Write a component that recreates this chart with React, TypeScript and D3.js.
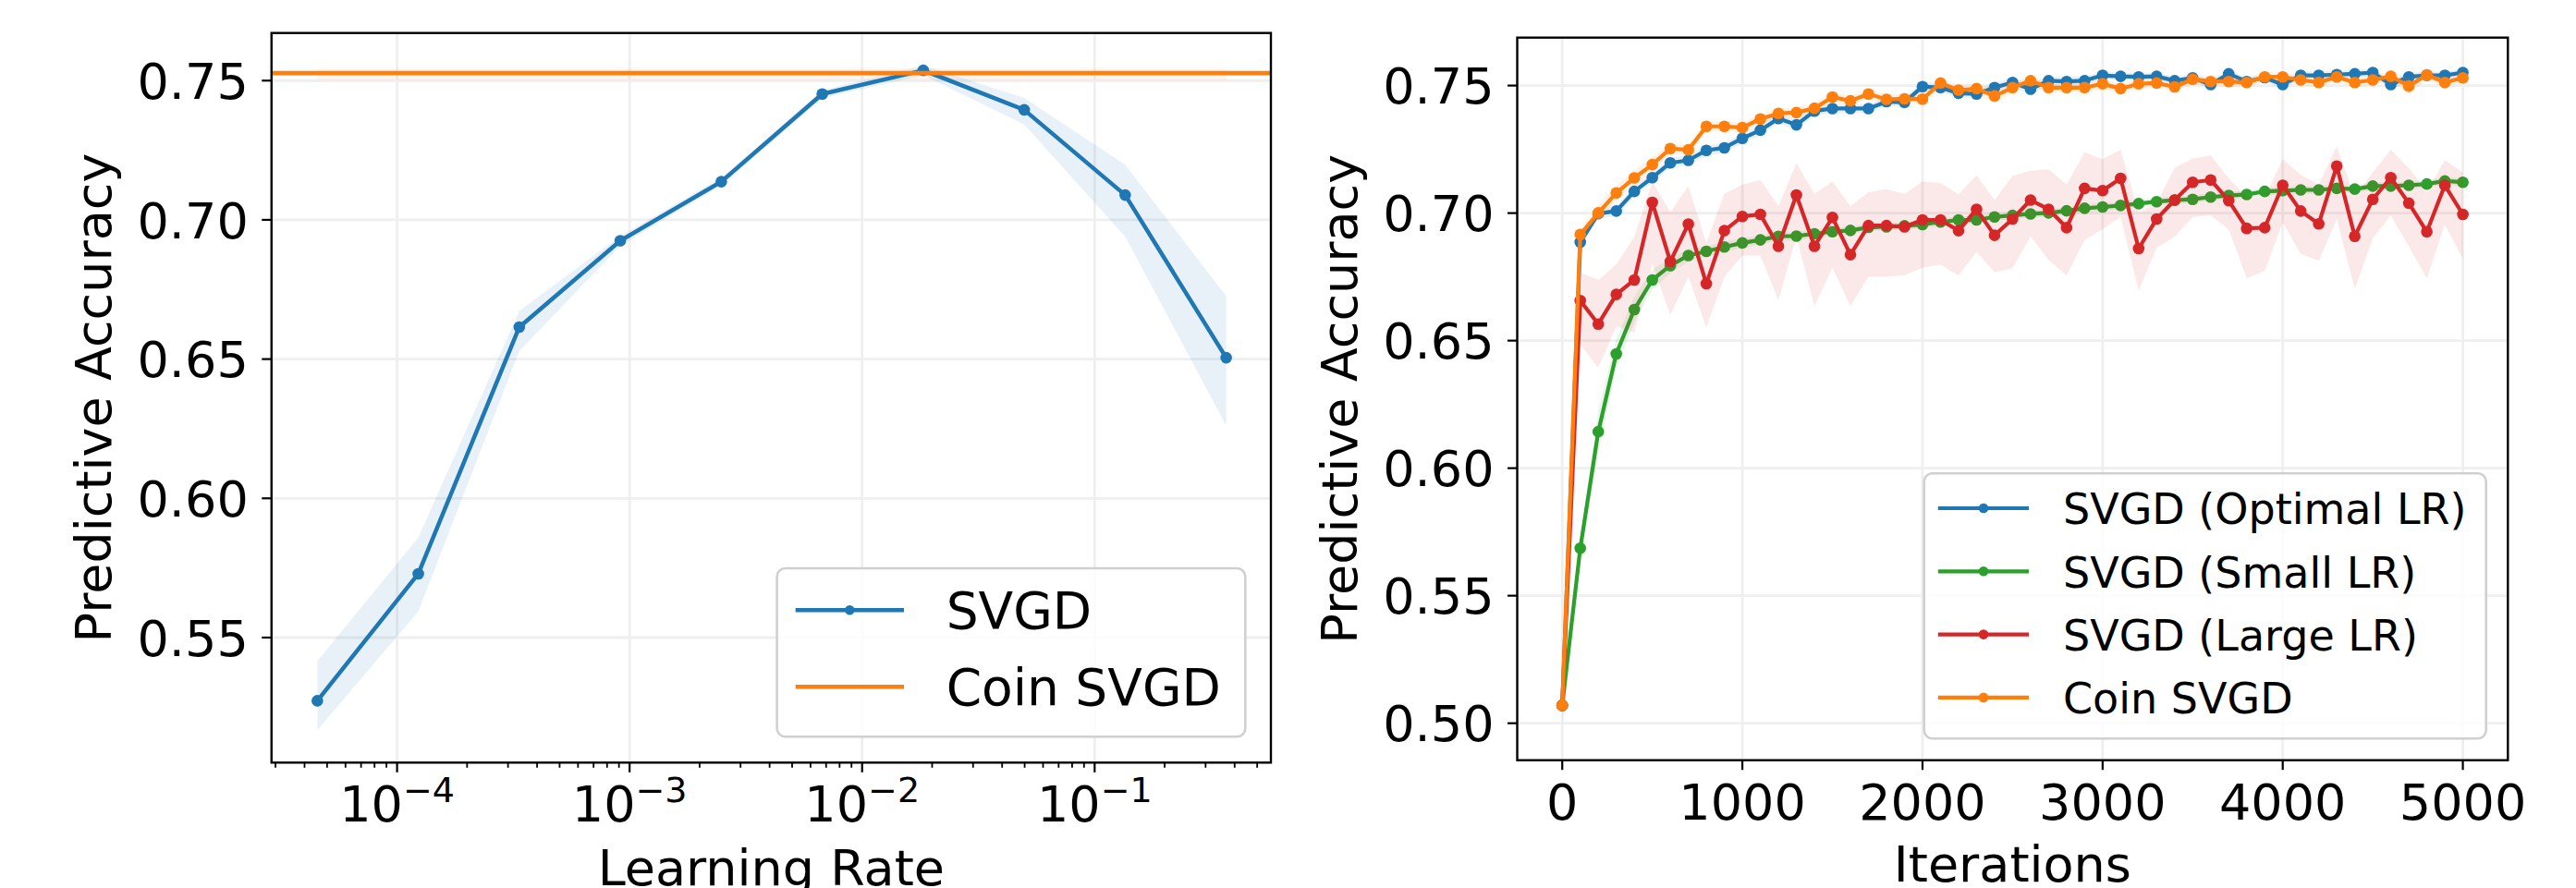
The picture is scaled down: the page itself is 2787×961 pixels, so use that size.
import React from "react";
import * as d3 from "d3";

// ---------- Left panel data ----------
const learningRates = [4.54e-5, 1.234e-4, 3.355e-4, 9.119e-4, 2.479e-3, 6.738e-3, 1.832e-2, 4.979e-2, 1.353e-1, 3.679e-1];
const svgdAcc = [0.5273, 0.5729, 0.6615, 0.6925, 0.7137, 0.7452, 0.7537, 0.7395, 0.7089, 0.6505];
const svgdAccLow = [0.5168, 0.5594, 0.6529, 0.6907, 0.7123, 0.7437, 0.7519, 0.7342, 0.6940, 0.6261];
const svgdAccHigh = [0.5415, 0.5859, 0.6673, 0.6942, 0.7151, 0.7466, 0.7555, 0.7438, 0.7198, 0.6726];
const coinAcc = 0.7527;
const coinAccLow = 0.7503;
const coinAccHigh = 0.7545;
const lrTickValues = [1e-4, 1e-3, 1e-2, 1e-1];
const lrTickExponents = ["\u22124", "\u22123", "\u22122", "\u22121"];
const leftYTicks = [0.55, 0.6, 0.65, 0.7, 0.75];
const leftYTickLabels = ["0.55", "0.60", "0.65", "0.70", "0.75"];
const leftLegend = ["SVGD", "Coin SVGD"];

// ---------- Right panel data ----------
const iterations = [0, 100, 200, 300, 400, 500, 600, 700, 800, 900, 1000, 1100, 1200, 1300, 1400, 1500, 1600, 1700, 1800, 1900, 2000, 2100, 2200, 2300, 2400, 2500, 2600, 2700, 2800, 2900, 3000, 3100, 3200, 3300, 3400, 3500, 3600, 3700, 3800, 3900, 4000, 4100, 4200, 4300, 4400, 4500, 4600, 4700, 4800, 4900, 5000];
const optimalLR = [0.507, 0.6886, 0.6998, 0.7008, 0.7085, 0.7139, 0.7197, 0.7207, 0.7246, 0.7256, 0.7293, 0.7325, 0.7371, 0.7346, 0.7400, 0.7410, 0.7410, 0.7410, 0.7437, 0.7434, 0.7496, 0.7492, 0.7470, 0.7467, 0.7492, 0.7512, 0.7486, 0.7519, 0.7516, 0.7519, 0.7540, 0.7536, 0.7534, 0.7536, 0.7519, 0.7530, 0.7504, 0.7546, 0.7516, 0.7531, 0.7504, 0.7540, 0.7540, 0.7543, 0.7546, 0.7551, 0.7504, 0.7534, 0.7540, 0.7540, 0.7551];
const optimalSpread = [0.004, 0.002, 0.002, 0.002, 0.002, 0.002, 0.002, 0.002, 0.002, 0.002, 0.002, 0.002, 0.002, 0.002, 0.0018, 0.0018, 0.0018, 0.0018, 0.0018, 0.0018, 0.0018, 0.0018, 0.0018, 0.0018, 0.0018, 0.0018, 0.0022, 0.0018, 0.0018, 0.0018, 0.0015, 0.0015, 0.0015, 0.0015, 0.0015, 0.0015, 0.0018, 0.0015, 0.0015, 0.0015, 0.0018, 0.0015, 0.0015, 0.0015, 0.0015, 0.0015, 0.0018, 0.0015, 0.0015, 0.0015, 0.0015];
const smallLR = [0.507, 0.5686, 0.6143, 0.6448, 0.6622, 0.6738, 0.6794, 0.6834, 0.6850, 0.6867, 0.6883, 0.6895, 0.6909, 0.6910, 0.6919, 0.6927, 0.6932, 0.6944, 0.6946, 0.6950, 0.6955, 0.6965, 0.6973, 0.6973, 0.6985, 0.6991, 0.6997, 0.7001, 0.7009, 0.7019, 0.7024, 0.7030, 0.7037, 0.7045, 0.7051, 0.7054, 0.7063, 0.7069, 0.7073, 0.7085, 0.7088, 0.7091, 0.7091, 0.7097, 0.7094, 0.7106, 0.7106, 0.7109, 0.7114, 0.7126, 0.7121];
const smallSpread = [0.008, 0.004, 0.008, 0.006, 0.005, 0.004, 0.003, 0.0025, 0.002, 0.002, 0.002, 0.0018, 0.0018, 0.0018, 0.0015, 0.0015, 0.0015, 0.0015, 0.0015, 0.0015, 0.0015, 0.0015, 0.0015, 0.0015, 0.0015, 0.0015, 0.0015, 0.0015, 0.0015, 0.0015, 0.0015, 0.0015, 0.0015, 0.0015, 0.0015, 0.0015, 0.0015, 0.0015, 0.0015, 0.0015, 0.0015, 0.0015, 0.0015, 0.0015, 0.0015, 0.0015, 0.0015, 0.0015, 0.0015, 0.0015, 0.0015];
const largeLR = [0.507, 0.6657, 0.6565, 0.6681, 0.6738, 0.7042, 0.6810, 0.6957, 0.6723, 0.6931, 0.6987, 0.6995, 0.6870, 0.7071, 0.6870, 0.6983, 0.6837, 0.6951, 0.6951, 0.6946, 0.6973, 0.6973, 0.6931, 0.7015, 0.6913, 0.6977, 0.7051, 0.7015, 0.6943, 0.7097, 0.7088, 0.7136, 0.6861, 0.6977, 0.7051, 0.7121, 0.7130, 0.7049, 0.6940, 0.6943, 0.7109, 0.7008, 0.6958, 0.7184, 0.6909, 0.7054, 0.7139, 0.7039, 0.6927, 0.7109, 0.6995];
const largeLRHigh = [0.509, 0.6768, 0.6738, 0.6798, 0.6907, 0.7124, 0.7003, 0.7106, 0.6883, 0.7076, 0.7112, 0.7130, 0.7027, 0.7196, 0.7076, 0.7124, 0.7027, 0.7082, 0.7094, 0.7076, 0.7124, 0.7118, 0.7073, 0.7148, 0.7051, 0.7146, 0.7166, 0.7172, 0.7112, 0.7239, 0.7211, 0.7249, 0.7003, 0.7039, 0.7178, 0.7214, 0.7226, 0.7136, 0.7063, 0.7063, 0.7211, 0.7150, 0.7112, 0.7262, 0.7063, 0.7160, 0.7249, 0.7178, 0.7082, 0.7208, 0.7160];
const largeLRLow = [0.505, 0.6485, 0.6394, 0.6557, 0.6533, 0.6800, 0.6599, 0.6750, 0.6551, 0.6750, 0.6834, 0.6834, 0.6659, 0.6907, 0.6635, 0.6786, 0.6635, 0.6750, 0.6750, 0.6756, 0.6786, 0.6798, 0.6756, 0.6848, 0.6768, 0.6784, 0.6909, 0.6816, 0.6756, 0.6895, 0.6937, 0.6985, 0.6696, 0.6864, 0.6907, 0.6985, 0.6991, 0.6937, 0.6744, 0.6774, 0.6964, 0.6840, 0.6813, 0.6976, 0.6702, 0.6901, 0.6991, 0.6870, 0.6744, 0.6955, 0.6822];
const coinSVGD = [0.507, 0.6916, 0.7001, 0.7079, 0.7138, 0.7190, 0.7253, 0.7248, 0.7340, 0.7340, 0.7335, 0.7369, 0.7391, 0.7394, 0.7411, 0.7455, 0.7440, 0.7467, 0.7446, 0.7448, 0.7447, 0.7510, 0.7482, 0.7488, 0.7459, 0.7492, 0.7519, 0.7492, 0.7492, 0.7492, 0.7507, 0.7488, 0.7507, 0.7510, 0.7495, 0.7525, 0.7516, 0.7516, 0.7512, 0.7534, 0.7534, 0.7522, 0.7512, 0.7534, 0.7512, 0.7522, 0.7536, 0.7498, 0.7542, 0.7512, 0.7530];
const coinSpread = [0.004, 0.002, 0.003, 0.003, 0.003, 0.003, 0.002, 0.002, 0.002, 0.002, 0.002, 0.002, 0.002, 0.002, 0.002, 0.002, 0.002, 0.002, 0.002, 0.002, 0.002, 0.002, 0.002, 0.002, 0.003, 0.002, 0.002, 0.002, 0.002, 0.002, 0.002, 0.002, 0.002, 0.002, 0.002, 0.002, 0.002, 0.002, 0.002, 0.002, 0.002, 0.002, 0.002, 0.002, 0.002, 0.002, 0.002, 0.003, 0.002, 0.002, 0.002];
const iterTicks = [0, 1000, 2000, 3000, 4000, 5000];
const rightYTicks = [0.5, 0.55, 0.6, 0.65, 0.7, 0.75];
const rightYTickLabels = ["0.50", "0.55", "0.60", "0.65", "0.70", "0.75"];
const rightLegend = ["SVGD (Optimal LR)", "SVGD (Small LR)", "SVGD (Large LR)", "Coin SVGD"];

const C_BLUE = "#1f77b4";
const C_ORANGE = "#ff7f0e";
const C_GREEN = "#2ca02c";
const C_RED = "#d62728";
const FONT = "DejaVu Sans";
const GRID = "#efefef";

export default function App() {
  // Left axes geometry
  const L = { x0: 293.75, x1: 1375, y0: 35.7, y1: 825.3 };
  const xL = d3.scaleLog().domain([2.884e-5, 0.5728]).range([L.x0, L.x1]);
  const yL = d3.scaleLinear().domain([0.5051, 0.7671]).range([L.y1, L.y0]);

  // Right axes geometry
  const R = { x0: 1641.5, x1: 2713.3, y0: 40.7, y1: 822.7 };
  const xR = d3.scaleLinear().domain([-250, 5250]).range([R.x0, R.x1]);
  const yR = d3.scaleLinear().domain([0.4855, 0.7688]).range([R.y1, R.y0]);

  const minorTicks = xL.ticks().filter((t) => {
    const e = Math.log10(t);
    return Math.abs(e - Math.round(e)) > 1e-6;
  });

  const leftLine = d3.line<number>().x((_, i) => xL(learningRates[i])).y((d) => yL(d));
  const leftBand = d3
    .area<number>()
    .x((_, i) => xL(learningRates[i]))
    .y0((_, i) => yL(svgdAccLow[i]))
    .y1((_, i) => yL(svgdAccHigh[i]));

  const rLine = (vals: number[]) =>
    d3.line<number>().x((_, i) => xR(iterations[i])).y((d) => yR(d))(vals) as string;
  const rBand = (lo: number[], hi: number[]) =>
    d3
      .area<number>()
      .x((_, i) => xR(iterations[i]))
      .y0((_, i) => yR(lo[i]))
      .y1((_, i) => yR(hi[i]))(lo) as string;

  const rightSeries = [
    { vals: optimalLR, lo: optimalLR.map((v, i) => v - optimalSpread[i]), hi: optimalLR.map((v, i) => v + optimalSpread[i]), color: C_BLUE },
    { vals: smallLR, lo: smallLR.map((v, i) => v - smallSpread[i]), hi: smallLR.map((v, i) => v + smallSpread[i]), color: C_GREEN },
    { vals: largeLR, lo: largeLRLow, hi: largeLRHigh, color: C_RED },
    { vals: coinSVGD, lo: coinSVGD.map((v, i) => v - coinSpread[i]), hi: coinSVGD.map((v, i) => v + coinSpread[i]), color: C_ORANGE },
  ];

  const lwL = 4.5;
  const lwR = 4.2;
  const mr = 6.3;

  return (
    <svg
      width={2787}
      height={961}
      style={{ position: "absolute", left: 0, top: 0, background: "#fff" }}
      fontFamily={FONT}
    >
      <rect x={0} y={0} width={2787} height={961} fill="#fff" />
      <defs>
        <clipPath id="clipL">
          <rect x={L.x0} y={L.y0} width={L.x1 - L.x0} height={L.y1 - L.y0} />
        </clipPath>
        <clipPath id="clipR">
          <rect x={R.x0} y={R.y0} width={R.x1 - R.x0} height={R.y1 - R.y0} />
        </clipPath>
      </defs>

      {/* ================= LEFT PANEL ================= */}
      <g>
        {lrTickValues.map((t) => (
          <line key={"gvl" + t} x1={xL(t)} x2={xL(t)} y1={L.y0} y2={L.y1} stroke={GRID} strokeWidth={2.8} />
        ))}
        {leftYTicks.map((t) => (
          <line key={"ghl" + t} x1={L.x0} x2={L.x1} y1={yL(t)} y2={yL(t)} stroke={GRID} strokeWidth={2.8} />
        ))}
        <g clipPath="url(#clipL)">
          <path d={leftBand(svgdAcc) as string} fill={C_BLUE} fillOpacity={0.1} />
          <rect
            x={xL(learningRates[0])}
            width={xL(learningRates[learningRates.length - 1]) - xL(learningRates[0])}
            y={yL(coinAccHigh)}
            height={yL(coinAccLow) - yL(coinAccHigh)}
            fill={C_ORANGE}
            fillOpacity={0.08}
          />
          <path d={leftLine(svgdAcc) as string} fill="none" stroke={C_BLUE} strokeWidth={lwL} strokeLinejoin="round" />
          {svgdAcc.map((v, i) => (
            <circle key={"pl" + i} cx={xL(learningRates[i])} cy={yL(v)} r={mr} fill={C_BLUE} />
          ))}
          <line x1={L.x0} x2={L.x1} y1={yL(coinAcc)} y2={yL(coinAcc)} stroke={C_ORANGE} strokeWidth={4.6} />
        </g>
        <rect x={L.x0} y={L.y0} width={L.x1 - L.x0} height={L.y1 - L.y0} fill="none" stroke="#000" strokeWidth={2.4} />
        {/* y ticks */}
        {leftYTicks.map((t, i) => (
          <g key={"ytl" + t}>
            <line x1={L.x0 - 10.5} x2={L.x0} y1={yL(t)} y2={yL(t)} stroke="#000" strokeWidth={2.2} />
            <text x={L.x0 - 25} y={yL(t) + 19.7} textAnchor="end" fontSize={54} fill="#000">
              {leftYTickLabels[i]}
            </text>
          </g>
        ))}
        {/* x ticks */}
        {minorTicks.map((t) => (
          <line key={"mt" + t} x1={xL(t)} x2={xL(t)} y1={L.y1} y2={L.y1 + 5.5} stroke="#000" strokeWidth={1.8} />
        ))}
        {lrTickValues.map((t, i) => (
          <g key={"xtl" + t}>
            <line x1={xL(t)} x2={xL(t)} y1={L.y1} y2={L.y1 + 10.5} stroke="#000" strokeWidth={2.2} />
            <text x={xL(t)} y={889} textAnchor="middle" fontSize={54} fill="#000">
              10
              <tspan fontSize={38} dy={-21}>
                {lrTickExponents[i]}
              </tspan>
            </text>
          </g>
        ))}
        <text x={(L.x0 + L.x1) / 2} y={958} textAnchor="middle" fontSize={54} fill="#000">
          Learning Rate
        </text>
        <text
          transform={`translate(119.5, ${(L.y0 + L.y1) / 2}) rotate(-90)`}
          textAnchor="middle"
          fontSize={54}
          fill="#000"
        >
          Predictive Accuracy
        </text>
        {/* legend */}
        <rect x={840.6} y={615} width={506.7} height={182.3} rx={9} fill="#fff" fillOpacity={0.8} stroke="#d0d0d0" strokeWidth={2.6} />
        <line x1={860.7} x2={978} y1={660.3} y2={660.3} stroke={C_BLUE} strokeWidth={4.5} />
        <circle cx={919.3} cy={660.3} r={5.3} fill={C_BLUE} />
        <text x={1023.7} y={680} fontSize={55} fill="#000">
          {leftLegend[0]}
        </text>
        <line x1={860.7} x2={978} y1={743.3} y2={743.3} stroke={C_ORANGE} strokeWidth={4.5} />
        <text x={1023.7} y={763.3} fontSize={55} fill="#000">
          {leftLegend[1]}
        </text>
      </g>

      {/* ================= RIGHT PANEL ================= */}
      <g>
        {iterTicks.map((t) => (
          <line key={"gvr" + t} x1={xR(t)} x2={xR(t)} y1={R.y0} y2={R.y1} stroke={GRID} strokeWidth={2.8} />
        ))}
        {rightYTicks.map((t) => (
          <line key={"ghr" + t} x1={R.x0} x2={R.x1} y1={yR(t)} y2={yR(t)} stroke={GRID} strokeWidth={2.8} />
        ))}
        <g clipPath="url(#clipR)">
          {rightSeries.map((s, si) => (
            <g key={"rs" + si}>
              <path d={rBand(s.lo, s.hi)} fill={s.color} fillOpacity={0.1} />
              <path d={rLine(s.vals)} fill="none" stroke={s.color} strokeWidth={lwR} strokeLinejoin="round" />
              {s.vals.map((v, i) => (
                <circle key={"rp" + si + "-" + i} cx={xR(iterations[i])} cy={yR(v)} r={mr} fill={s.color} />
              ))}
            </g>
          ))}
        </g>
        <rect x={R.x0} y={R.y0} width={R.x1 - R.x0} height={R.y1 - R.y0} fill="none" stroke="#000" strokeWidth={2.4} />
        {rightYTicks.map((t, i) => (
          <g key={"ytr" + t}>
            <line x1={R.x0 - 10.5} x2={R.x0} y1={yR(t)} y2={yR(t)} stroke="#000" strokeWidth={2.2} />
            <text x={R.x0 - 25} y={yR(t) + 19.7} textAnchor="end" fontSize={54} fill="#000">
              {rightYTickLabels[i]}
            </text>
          </g>
        ))}
        {iterTicks.map((t) => (
          <g key={"xtr" + t}>
            <line x1={xR(t)} x2={xR(t)} y1={R.y1} y2={R.y1 + 10.5} stroke="#000" strokeWidth={2.2} />
            <text x={xR(t)} y={887} textAnchor="middle" fontSize={54} fill="#000">
              {String(t)}
            </text>
          </g>
        ))}
        <text x={(R.x0 + R.x1) / 2} y={954} textAnchor="middle" fontSize={54} fill="#000">
          Iterations
        </text>
        <text
          transform={`translate(1468, ${(R.y0 + R.y1) / 2}) rotate(-90)`}
          textAnchor="middle"
          fontSize={54}
          fill="#000"
        >
          Predictive Accuracy
        </text>
        {/* legend */}
        <rect x={2081.7} y={512.3} width={608} height={287} rx={9} fill="#fff" fillOpacity={0.8} stroke="#d0d0d0" strokeWidth={2.6} />
        {rightSeries.map((s, i) => {
          const cy = 550 + i * 68.3;
          return (
            <g key={"lg" + i}>
              <line x1={2096.8} x2={2195} y1={cy} y2={cy} stroke={s.color} strokeWidth={4.2} />
              <circle cx={2146} cy={cy} r={5.3} fill={s.color} />
              <text x={2232} y={cy + 17.3} fontSize={46} fill="#000">
                {rightLegend[i]}
              </text>
            </g>
          );
        })}
      </g>
    </svg>
  );
}
